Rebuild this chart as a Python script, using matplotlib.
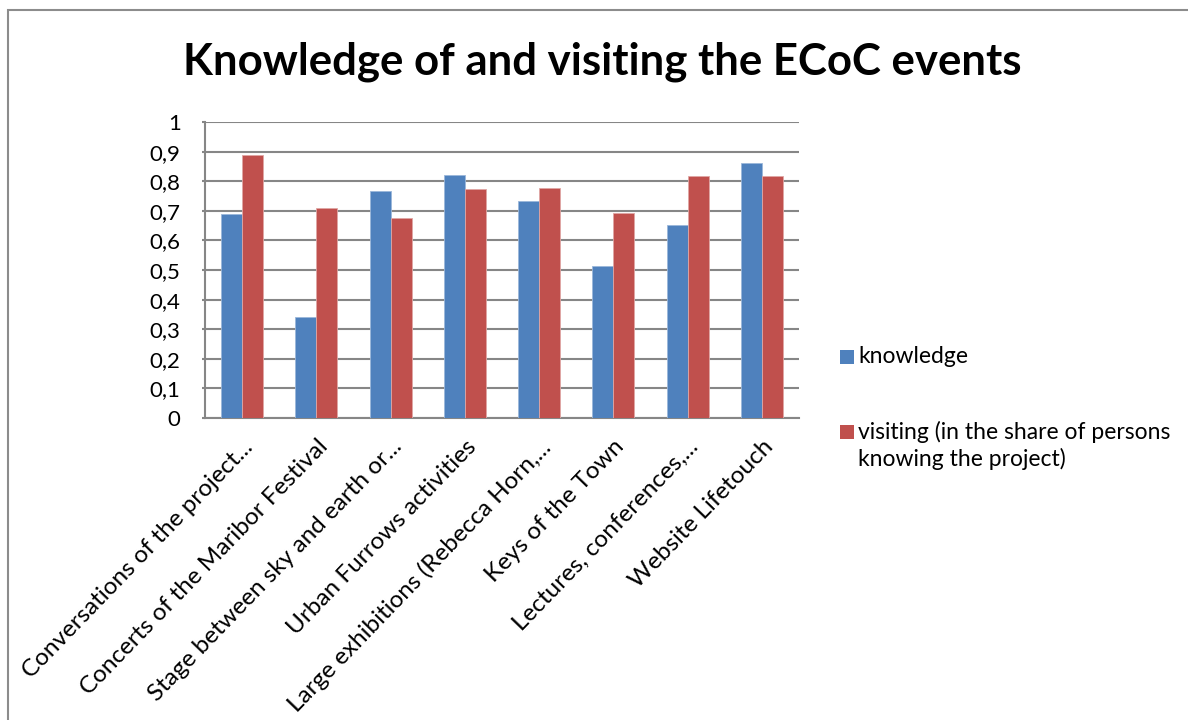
import matplotlib
matplotlib.use('Agg')
import matplotlib.pyplot as plt
import numpy as np
from matplotlib.patches import Rectangle

plt.rcParams['font.family'] = ['Lato', 'DejaVu Sans']

events = [
    'Conversations of the project...',
    'Concerts of the Maribor Festival',
    'Stage between sky and earth or...',
    'Urban Furrows activities',
    'Large exhibitions (Rebecca Horn,...',
    'Keys of the Town',
    'Lectures, conferences,...',
    'Website Lifetouch',
]
knowledge = [0.69, 0.341, 0.766, 0.821, 0.733, 0.512, 0.651, 0.86]
visiting = [0.89, 0.708, 0.677, 0.773, 0.776, 0.694, 0.819, 0.816]
y_ticks = [0, 0.1, 0.2, 0.3, 0.4, 0.5, 0.6, 0.7, 0.8, 0.9, 1]
y_labels = ['0', '0,1', '0,2', '0,3', '0,4', '0,5', '0,6', '0,7', '0,8', '0,9', '1']
series_names = ['knowledge', 'visiting (in the share of persons\nknowing the project)']

blue = '#4F81BD'
red = '#C0504D'
grid_grey = '#868686'

W, H = 1188, 720
fig = plt.figure(figsize=(W / 100, H / 100), dpi=100)
ax = fig.add_axes([205 / W, 1 - 418 / H, 594 / W, 296 / H])

# outer chart border (runs off the right and bottom edge)
fig.patches.append(Rectangle((8 / W, -0.05), 1.2, 1 - 10 / H + 0.05,
                             transform=fig.transFigure, fill=False,
                             edgecolor='#8c8c8c', linewidth=1.5))

x = np.arange(len(events))
w = 0.283
ax.bar(x - w / 2, knowledge, w, color=blue, edgecolor='#9bb7da', linewidth=0.6, zorder=3)
ax.bar(x + w / 2, visiting, w, color=red, edgecolor='#e0a6a4', linewidth=0.6, zorder=3)

ax.set_xlim(-0.5, len(events) - 0.5)
ax.set_ylim(0, 1)
ax.set_yticks(y_ticks)
ax.set_yticklabels(y_labels, fontsize=16)
ax.yaxis.grid(True, color=grid_grey, linewidth=1.5, zorder=0)
ax.set_axisbelow(True)
ax.tick_params(axis='y', length=2.5, width=1.5, color=grid_grey, pad=15)
ax.tick_params(axis='x', length=0, pad=13)

ax.set_xticks(x)
ax.set_xticklabels(events, rotation=46, ha='right', va='top',
                   rotation_mode='anchor', fontsize=17.5)

for side in ['top', 'right']:
    ax.spines[side].set_visible(False)
for side in ['left', 'bottom']:
    ax.spines[side].set_color(grid_grey)
    ax.spines[side].set_linewidth(1.5)

fig.text(602 / W, 1 - 62 / H, 'Knowledge of and visiting the ECoC events',
         ha='center', va='center', fontsize=31.5, fontweight='bold')

# legend: square markers aligned with the first line of each label
for color, name, yc in zip([blue, red], series_names, [357, 432]):
    fig.patches.append(Rectangle((840 / W, 1 - (yc + 7) / H), 14 / W, 14 / H,
                                 transform=fig.transFigure, facecolor=color,
                                 edgecolor='none'))
    fig.text(858 / W, 1 - (yc - 11) / H, name, ha='left', va='top',
             fontsize=16.5, linespacing=1.25)

fig.savefig('out.png', dpi=100)
